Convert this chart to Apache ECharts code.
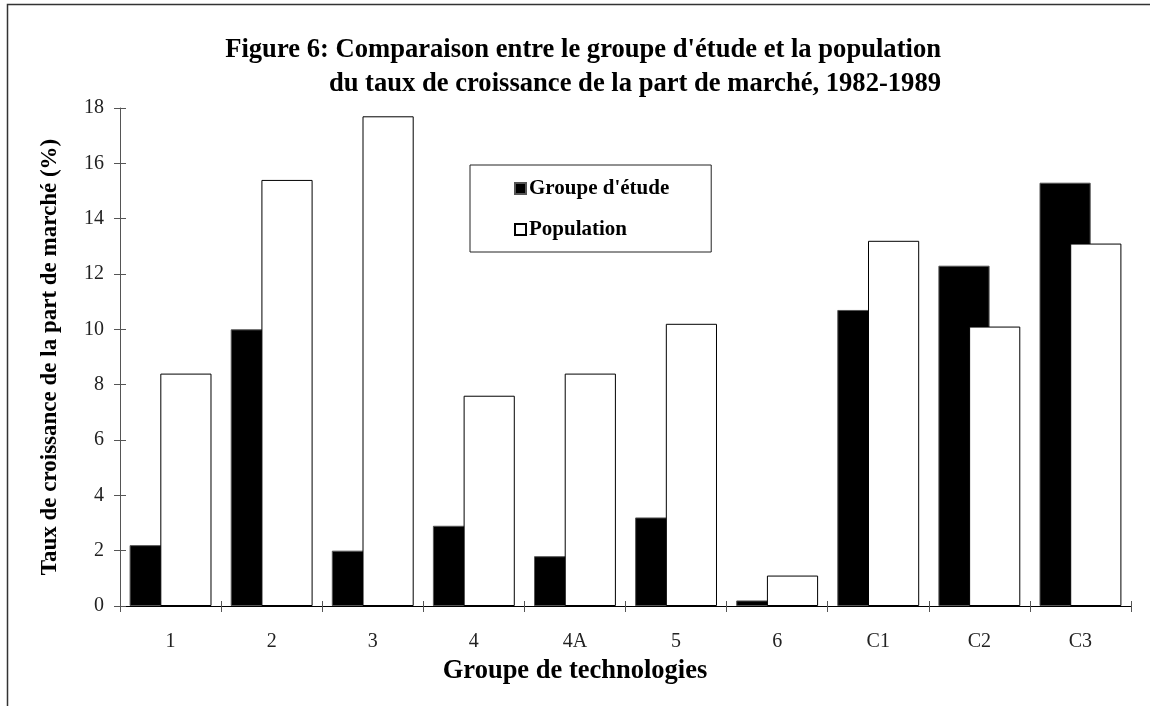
<!DOCTYPE html>
<html>
<head>
<meta charset="utf-8">
<script src="https://cdn.jsdelivr.net/npm/echarts@6/dist/echarts.min.js"></script>
<style>
  html, body { margin: 0; padding: 0; background: #fff; }
  #chart { width: 1150px; height: 706px; }
</style>
</head>
<body>
<div id="chart"></div>
<script>
const categories = ['1', '2', '3', '4', '4A', '5', '6', 'C1', 'C2', 'C3']
const groupeEtude = [2.2, 10.0, 2.0, 2.9, 1.8, 3.2, 0.2, 10.7, 12.3, 15.3]
const population = [8.4, 15.4, 17.7, 7.6, 8.4, 10.2, 1.1, 13.2, 10.1, 13.1]
const titleLines = [
  "Figure 6: Comparaison entre le groupe d'étude et la population",
  'du taux de croissance de la part de marché, 1982-1989'
]
const xAxisTitle = 'Groupe de technologies'
const yAxisTitle = 'Taux de croissance de la part de marché (%)'

const serif = '"Liberation Serif", "DejaVu Serif", serif'
const chart = echarts.init(document.getElementById('chart'))

const tickLabel = { color: '#222', fontFamily: serif, fontSize: 20 }

chart.setOption({
  animation: false,
  backgroundColor: '#fff',
  graphic: [
    { type: 'rect', shape: { x: 7.5, y: 4.5, width: 1300, height: 900 },
      style: { fill: 'none', stroke: '#333', lineWidth: 1.5 }, silent: true },
    { type: 'text', x: 575, y: 671,
      style: { text: xAxisTitle, align: 'center', verticalAlign: 'middle',
        font: 'bold 26.5px ' + serif, fill: '#000' } }
  ],
  title: [
    { text: titleLines[0], right: 204, top: 32,
      textStyle: { fontFamily: serif, fontWeight: 'bold', fontSize: 26.6, color: '#000' } },
    { text: titleLines[1], right: 204, top: 66,
      textStyle: { fontFamily: serif, fontWeight: 'bold', fontSize: 26.6, color: '#000' } }
  ],
  legend: {
    orient: 'vertical',
    left: 470, top: 165,
    padding: [13, 42, 12, 44],
    itemGap: 20,
    itemWidth: 11, itemHeight: 11,
    icon: 'rect',
    borderColor: '#222', borderWidth: 1,
    backgroundColor: '#fff',
    textStyle: { fontFamily: serif, fontWeight: 'bold', fontSize: 21, color: '#000', padding: [0, 0, 0, -2] },
    data: ["Groupe d'étude", 'Population']
  },
  grid: { left: 120, right: 19, top: 108, bottom: 100 },
  xAxis: [
    {
      type: 'category', data: categories,
      axisLine: { lineStyle: { color: '#000', width: 1.2 } },
      axisTick: { show: true, length: 6, lineStyle: { color: '#555' } },
      axisLabel: { ...tickLabel, margin: 26 }
    },
    {
      type: 'category', data: categories, position: 'bottom',
      axisLine: { show: false },
      axisTick: { show: true, inside: true, length: 5, lineStyle: { color: '#555' } },
      axisLabel: { show: false }
    }
  ],
  yAxis: [
    {
      type: 'value', min: 0, max: 18, interval: 2,
      axisLine: { show: true, lineStyle: { color: '#555' } },
      axisTick: { show: true, length: 6, lineStyle: { color: '#555' } },
      splitLine: { show: false },
      axisLabel: { ...tickLabel, margin: 16 },
      name: yAxisTitle,
      nameLocation: 'middle', nameGap: 58, nameRotate: 90,
      nameTextStyle: { fontFamily: serif, fontWeight: 'bold', fontSize: 23, color: '#000' }
    },
    {
      type: 'value', min: 0, max: 18, interval: 2, position: 'left',
      axisLine: { show: false },
      axisTick: { show: true, inside: true, length: 6, lineStyle: { color: '#555' } },
      splitLine: { show: false },
      axisLabel: { show: false }
    }
  ],
  series: [
    {
      name: "Groupe d'étude", type: 'bar', data: groupeEtude,
      barCategoryGap: '19%', barGap: '-40%',
      itemStyle: { color: '#000', borderColor: '#555', borderWidth: 1 }
    },
    {
      name: 'Population', type: 'bar', data: population,
      barCategoryGap: '19%', barGap: '-40%',
      itemStyle: { color: '#fff', borderColor: '#000', borderWidth: 1 }
    }
  ]
})
</script>
</body>
</html>
